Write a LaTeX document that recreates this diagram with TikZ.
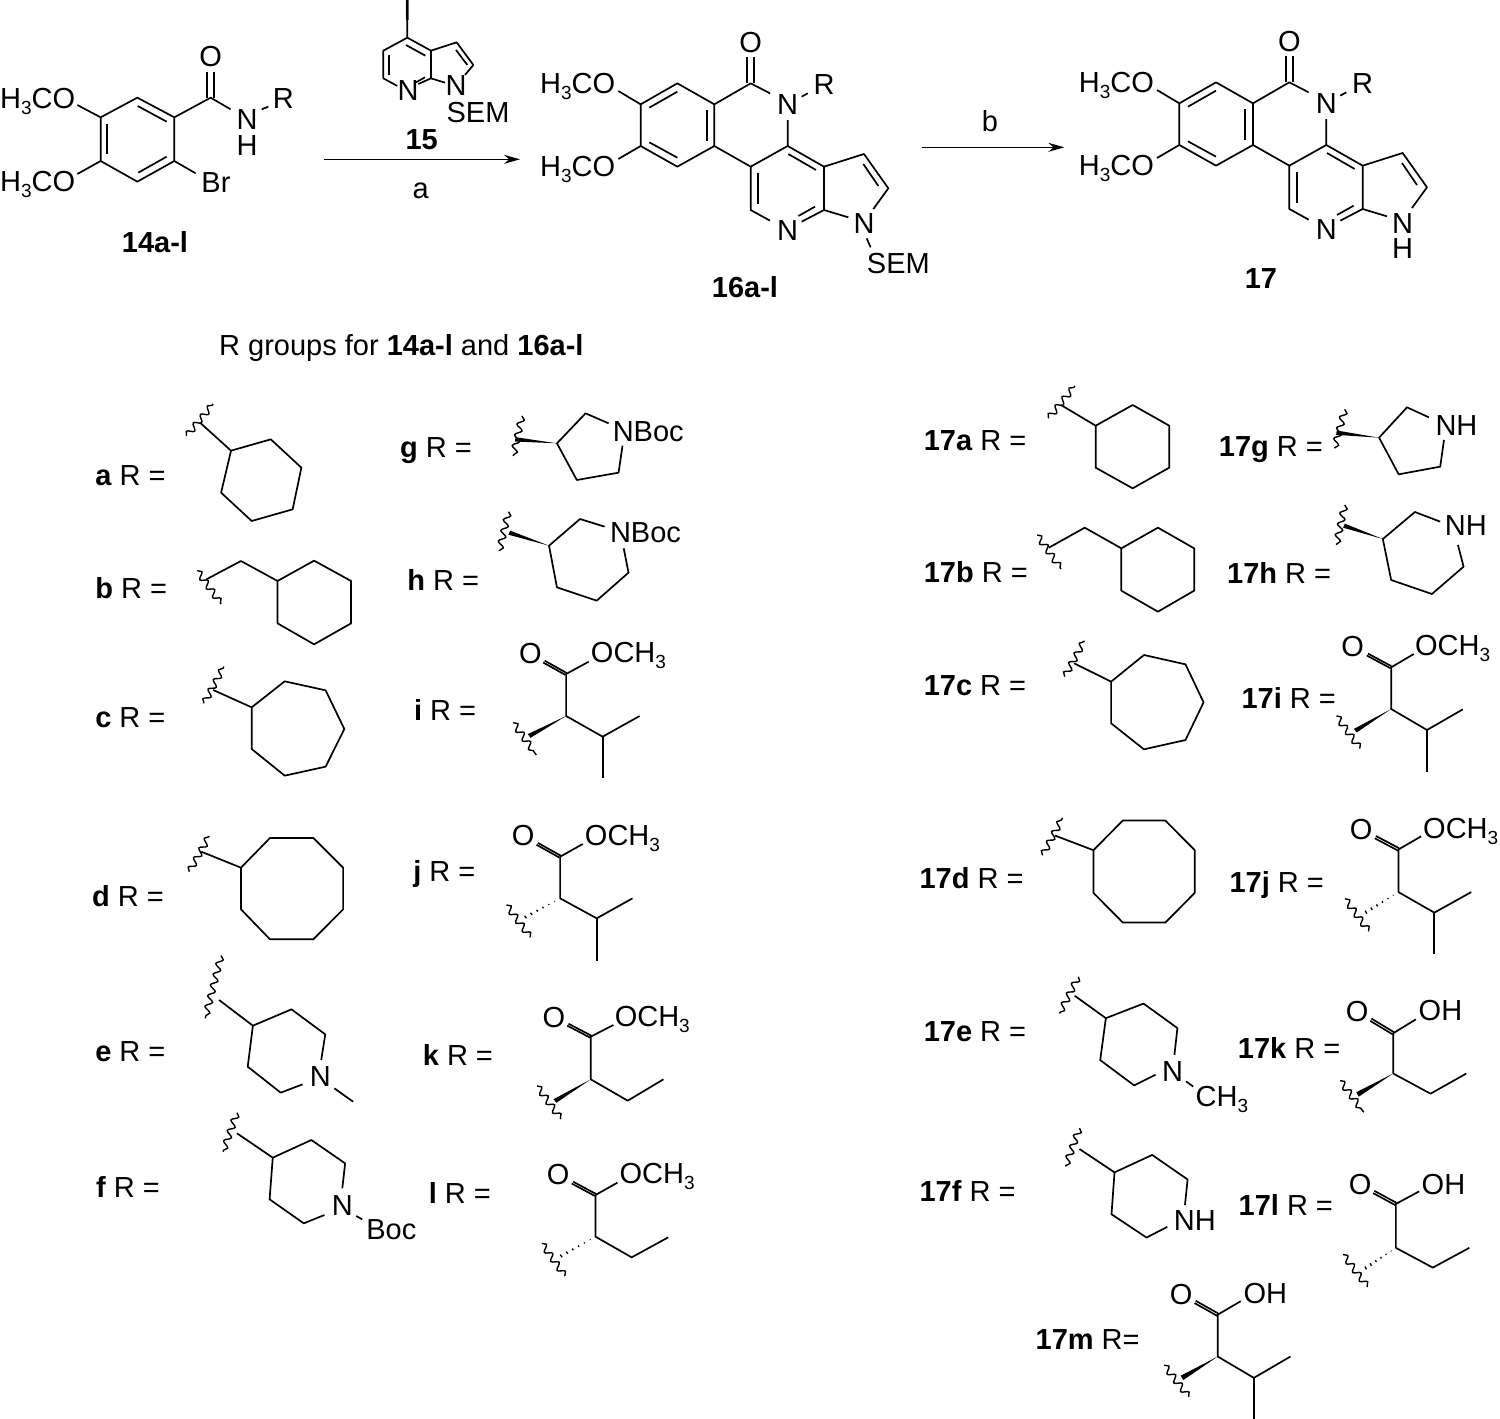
\documentclass[tikz,border=0pt]{standalone}
\usepackage{fontspec}
\setmainfont{Liberation Sans}
\usetikzlibrary{calc,arrows.meta,decorations.pathmorphing}
\newcommand{\chemf}{\fontsize{29}{31}\selectfont}
\newcommand{\three}{\raisebox{-6pt}{\fontsize{19}{19}\selectfont 3}}
\tikzset{
 every node/.style={font=\chemf,inner sep=0pt,text=black},
 bond/.style={line width=1.7pt,line join=round,black},
 wavy/.style={line width=1.4pt,black,decorate,decoration={snake,segment length=11pt,amplitude=3.2pt}},
 hash/.style={line width=1.3pt,black},
 rxn/.style={line width=1.4pt,black,-{Stealth[length=16pt,width=9pt]}},
 lbl/.style={anchor=base west},
 atom/.style={anchor=center},
 zA/.style={shift={(0,0)},scale=0.33333},
 zB/.style={shift={(520,10)},scale=0.33333},
 zD/.style={shift={(80,380)},xscale=0.39746,yscale=0.33333},
 zE/.style={shift={(80,800)},xscale=0.39746,yscale=0.33333},
 zF/.style={shift={(910,380)},xscale=0.37736,yscale=0.33333},
 zG/.style={shift={(910,800)},xscale=0.37665,yscale=0.39526},
}
% solid wedge: tip, wide end
\newcommand{\wedgeb}[2]{\coordinate (w1) at #1;\coordinate (w2) at #2;
 \fill[black] ($(w2)!6.5pt!90:(w1)$) -- (w1) -- ($(w2)!6.5pt!-90:(w1)$) -- cycle;}
% hashed wedge: tip, wide end
\newcommand{\hashb}[2]{\coordinate (w1) at #1;\coordinate (w2) at #2;
 \foreach \t/\w in {.14/.8,.29/1.5,.44/2.2,.59/2.9,.74/3.6,.89/4.4}{
  \coordinate (wc) at ($(w1)!\t!(w2)$);
  \draw[hash] ($(wc)!\w pt!90:(w2)$) -- ($(wc)!\w pt!-90:(w2)$);}}
% carbonyl double bond: O centre, C
\newcommand{\cdo}[2]{\coordinate (co) at #1;\coordinate (cc) at #2;
 \coordinate (ca) at ($(co)!.38!(cc)$);
 \draw[bond] ($(ca)!3.3pt!90:(cc)$) -- ($(cc)!3.3pt!-90:(ca)$);
 \draw[bond] ($(ca)!3.3pt!-90:(cc)$) -- ($(cc)!3.3pt!90:(ca)$);}
% tricyclic core of 16 and 17, in zoom coordinates
\newcommand{\core}[1]{
 \draw[bond] (295,243)--(362,283)--(472,220)--(583,283)--(692,220)--(750,250);
 \draw[bond] (362,283)--(362,408)--(472,470)--(583,408)--(583,283);
 \draw[bond] (295,447)--(362,408);
 \draw[bond] (583,408)--(692,470)--(692,600)--(750,632);
 \draw[bond] (692,470)--(803,408)--(803,330);
 \draw[bond] (803,408)--(912,470)--(912,600)--(845,635);
 \draw[bond] (912,470)--(1032,432)--(1105,535)--(1060,597);
 \draw[bond] (912,600)--(985,622);
 \draw[bond] (388,293)--(472,245);
 \draw[bond] (388,397)--(472,443);
 \draw[bond] (560,300)--(560,392);
 \draw[bond] (805,432)--(888,480);
 \draw[bond] (715,490)--(715,582);
 \draw[bond] (885,590)--(835,618);
 \draw[bond] (1030,462)--(1075,528);
 \draw[bond] (682,220)--(682,140);
 \draw[bond] (702,220)--(702,140);
 \draw[bond] (845,260)--(863,250);
 \node[lbl] (#1ma) at (60,250) {H\three CO};
 \node[lbl] (#1mb) at (60,498) {H\three CO};
 \node[atom] (#1o) at (692,97) {O};
 \node[atom] (#1n) at (803,285) {N};
 \node[atom] (#1r) at (912,225) {R};
 \node[atom] (#1p) at (803,662) {N};
}
\begin{document}
\begin{tikzpicture}[x=1pt,y=-1pt]
\useasboundingbox (0,0) rectangle (1500,1419);
% ---------- 14 and 15
\begin{scope}[zA]
 \draw[bond] (232,315)--(302,352)--(412,293)--(523,352)--(523,483)--(412,545)--(302,483)--(302,352);
 \draw[bond] (232,522)--(302,483);
 \draw[bond] (413,318)--(500,365);
 \draw[bond] (322,372)--(322,463);
 \draw[bond] (415,518)--(500,470);
 \draw[bond] (523,352)--(632,293)--(692,328);
 \draw[bond] (622,293)--(622,217);
 \draw[bond] (642,293)--(642,217);
 \draw[bond] (785,328)--(805,320);
 \draw[bond] (523,483)--(587,520);
 \node[lbl] (ma) at (0,325) {H\three CO};
 \node[lbl] (mb) at (0,575) {H\three CO};
 \node[atom] (oa) at (632,170) {O};
 \node[atom] (na) at (741,358) {N};
 \node[atom] (ha) at (741,437) {H};
 \node[atom] (ra) at (850,295) {R};
 \node[atom] (bra) at (648,548) {Br};
 \node[atom] (c14) at (465,725) {\textbf{14a-l}};
 % 15
 \draw[bond] (1222,58)--(1222,113)--(1293,152)--(1293,235)--(1255,252);
 \draw[bond] (1222,113)--(1150,152)--(1150,235)--(1192,258);
 \draw[bond] (1293,152)--(1370,127)--(1420,195)--(1395,225);
 \draw[bond] (1293,235)--(1335,248);
 \draw[bond] (1218,135)--(1276,167);
 \draw[bond] (1167,165)--(1167,225);
 \draw[bond] (1275,232)--(1248,247);
 \draw[bond] (1368,150)--(1402,195);
 \node[atom] (ia) at (1222,31) {I};
 \node[atom] (nb) at (1224,272) {N};
 \node[atom] (nc) at (1368,258) {N};
 \node[atom] (sa) at (1434,337) {SEM};
 \node[atom] (c15) at (1265,418) {\textbf{15}};
 \node[atom] (la) at (1262,573) {a};
 \coordinate (a1s) at (972,478);
 \coordinate (a1e) at (1560,478);
\end{scope}
\draw[rxn] (a1s) -- (a1e);
% ---------- 16
\begin{scope}[zB]
 \core{x}
 \draw[bond] (1040,685)--(1052,712);
 \node[atom] (nd) at (1032,640) {N};
 \node[atom] (sb) at (1135,760) {SEM};
 \node[atom] (c16) at (675,830) {\textbf{16a-l}};
 \coordinate (a2s) at (1205,412);
 \node[atom] (lb) at (1410,333) {b};
 \coordinate (a2e) at (1633,412);
\end{scope}
\draw[rxn] (a2s) -- (a2e);
% ---------- 17
\begin{scope}[zB,shift={(1616,-3)}]
 \core{y}
 \node[atom] (ne) at (1032,643) {N};
 \node[atom] (hb) at (1032,718) {H};
 \node[atom] (c17) at (607,808) {\textbf{17}};
\end{scope}
\node[lbl] (title) at (219,355) {R groups for \textbf{14a-l} and \textbf{16a-l}};
% ---------- left columns, upper
\begin{scope}[zD]
 \node[lbl] (ga) at (38,315) {\textbf{a} R =};
 \draw[wavy] (268,168)--(335,72);
 \draw[bond] (302,128)--(380,212)--(480,178)--(557,263)--(535,388)--(432,423)--(355,338)--(380,212);
 \node[lbl] (gb) at (38,655) {\textbf{b} R =};
 \draw[wavy] (295,572)--(355,672);
 \draw[bond] (318,598)--(405,543)--(497,603)--(589,542)--(682,603)--(682,730)--(589,793)--(497,730)--(497,603);
 \node[lbl] (gc) at (38,1042) {\textbf{c} R =};
 \draw[wavy] (312,970)--(362,860);
 \draw[bond] (335,930)--(432,982)--(515,904)--(618,931)--(665,1047)--(618,1160)--(515,1187)--(432,1107)--(432,982);
 \node[lbl] (gg) at (805,232) {\textbf{g} R =};
 \draw[wavy] (1112,108)--(1090,228);
 \wedgeb{(1200,190)}{(1095,178)}
 \draw[bond] (1330,130)--(1272,100)--(1200,190)--(1250,300)--(1355,278)--(1365,197);
 \node[lbl] (nbg) at (1340,183) {NBoc};
 \node[lbl] (gh) at (823,630) {\textbf{h} R =};
 \draw[wavy] (1078,395)--(1055,513);
 \wedgeb{(1180,497)}{(1080,458)}
 \draw[bond] (1320,440)--(1258,417)--(1180,497)--(1200,622)--(1300,662)--(1380,578)--(1368,505);
 \node[lbl] (nbh) at (1333,488) {NBoc};
 \node[lbl] (gi) at (840,1022) {\textbf{i} R =};
 \node[atom] (oi) at (1133,822) {O};
 \node[lbl] (mi) at (1285,848) {OCH\three};
 \cdo{(1133,822)}{(1223,882)}
 \draw[bond] (1280,845)--(1223,882)--(1223,1008)--(1315,1070)--(1408,1008);
 \draw[bond] (1315,1070)--(1315,1195);
 \wedgeb{(1223,1008)}{(1130,1068)}
 \draw[wavy] (1090,1028)--(1148,1125);
\end{scope}
% ---------- left columns, lower
\begin{scope}[zE]
 \node[lbl] (gd) at (30,318) {\textbf{d} R =};
 \draw[wavy] (275,215)--(325,108);
 \draw[bond] (305,155)--(405,203)--(478,114)--(587,114)--(662,203)--(662,328)--(587,418)--(478,418)--(405,328)--(405,203);
 \node[lbl] (gj) at (838,245) {\textbf{j} R =};
 \node[atom] (oj) at (1115,108) {O};
 \node[lbl] (mj) at (1270,135) {OCH\three};
 \cdo{(1115,108)}{(1208,170)}
 \draw[bond] (1265,132)--(1208,170)--(1208,295)--(1300,355)--(1390,295);
 \draw[bond] (1300,355)--(1300,482);
 \hashb{(1208,295)}{(1110,358)}
 \draw[wavy] (1073,315)--(1133,412);
 \node[lbl] (ge) at (38,785) {\textbf{e} R =};
 \draw[wavy] (355,467)--(315,655);
 \draw[bond] (350,600)--(435,677)--(532,628)--(617,703)--(607,780);
 \draw[bond] (560,853)--(505,878)--(422,800)--(435,677);
 \draw[bond] (640,865)--(687,905);
 \node[atom] (ne1) at (605,830) {N};
 \node[lbl] (gk) at (862,795) {\textbf{k} R =};
 \node[atom] (ok) at (1192,652) {O};
 \node[lbl] (mk) at (1345,680) {OCH\three};
 \cdo{(1192,652)}{(1285,710)}
 \draw[bond] (1342,675)--(1285,710)--(1285,838)--(1378,902)--(1468,838);
 \wedgeb{(1285,838)}{(1195,903)}
 \draw[wavy] (1150,858)--(1210,957);
 \node[lbl] (gf) at (40,1192) {\textbf{f} R =};
 \draw[wavy] (395,938)--(360,1055);
 \draw[bond] (395,1000)--(485,1073)--(582,1020)--(667,1090)--(660,1165);
 \draw[bond] (615,1245)--(563,1270)--(477,1198)--(485,1073);
 \draw[bond] (695,1248)--(710,1258);
 \node[atom] (nf) at (660,1218) {N};
 \node[lbl] (bf) at (720,1318) {Boc};
 \node[lbl] (gl) at (877,1210) {\textbf{l} R =};
 \node[atom] (ol) at (1203,1125) {O};
 \node[lbl] (ml) at (1357,1150) {OCH\three};
 \cdo{(1203,1125)}{(1297,1185)}
 \draw[bond] (1352,1148)--(1297,1185)--(1297,1310)--(1388,1372)--(1480,1312);
 \hashb{(1297,1310)}{(1200,1375)}
 \draw[wavy] (1162,1330)--(1220,1428);
\end{scope}
% ---------- right columns, upper
\begin{scope}[zF]
 \node[lbl] (qa) at (36,212) {\textbf{17a} R =};
 \draw[wavy] (367,115)--(437,18);
 \draw[bond] (400,75)--(492,137)--(590,75)--(687,137)--(687,263)--(590,325)--(492,263)--(492,137);
 \node[lbl] (qg) at (818,228) {\textbf{17g} R =};
 \draw[wavy] (1152,88)--(1125,205);
 \wedgeb{(1243,173)}{(1130,158)}
 \draw[bond] (1375,112)--(1317,82)--(1243,173)--(1295,283)--(1405,260)--(1415,180);
 \node[lbl] (nhg) at (1392,165) {NH};
 \node[lbl] (qb) at (36,607) {\textbf{17b} R =};
 \draw[wavy] (337,465)--(400,567);
 \draw[bond] (368,503)--(463,443)--(560,505)--(657,443)--(753,505)--(753,632)--(657,695)--(560,632)--(560,505);
 \node[lbl] (qh) at (840,610) {\textbf{17h} R =};
 \draw[wavy] (1152,375)--(1130,495);
 \wedgeb{(1253,477)}{(1150,437)}
 \draw[bond] (1405,425)--(1338,396)--(1253,477)--(1275,600)--(1383,642)--(1467,560)--(1452,495);
 \node[lbl] (nhh) at (1417,465) {NH};
 \node[lbl] (qc) at (36,947) {\textbf{17c} R =};
 \draw[wavy] (410,890)--(462,782);
 \draw[bond] (435,850)--(533,905)--(620,825)--(730,853)--(778,967)--(730,1080)--(620,1108)--(533,1030)--(533,905);
 \node[lbl] (qi) at (878,985) {\textbf{17i} R =};
 \node[atom] (oqi) at (1173,800) {O};
 \node[lbl] (mqi) at (1338,825) {OCH\three};
 \cdo{(1173,800)}{(1275,862)}
 \draw[bond] (1335,822)--(1275,862)--(1275,987)--(1370,1050)--(1465,988);
 \draw[bond] (1370,1050)--(1370,1177);
 \wedgeb{(1275,987)}{(1180,1052)}
 \draw[wavy] (1130,1008)--(1192,1105);
\end{scope}
% ---------- right columns, lower
\begin{scope}[zG]
 \node[lbl] (qd) at (25,225) {\textbf{17d} R =};
 \draw[wavy] (352,140)--(405,45);
 \draw[bond] (385,90)--(487,127)--(565,52)--(678,52)--(756,127)--(756,235)--(678,310)--(565,310)--(487,235)--(487,127);
 \node[lbl] (qj) at (848,235) {\textbf{17j} R =};
 \node[atom] (oqj) at (1198,75) {O};
 \node[lbl] (mqj) at (1362,98) {OCH\three};
 \cdo{(1198,75)}{(1297,125)}
 \draw[bond] (1357,92)--(1297,125)--(1297,233)--(1392,285)--(1490,233);
 \draw[bond] (1392,285)--(1392,390);
 \hashb{(1297,233)}{(1200,290)}
 \draw[wavy] (1155,250)--(1218,332);
 \node[lbl] (qe) at (36,612) {\textbf{17e} R =};
 \draw[wavy] (447,447)--(397,540);
 \draw[bond] (437,495)--(520,552)--(620,515)--(710,577)--(702,645);
 \draw[bond] (652,695)--(595,722)--(505,658)--(520,552);
 \draw[bond] (733,712)--(752,725);
 \node[atom] (nqe) at (697,688) {N};
 \node[lbl] (cqe) at (758,775) {CH\three};
 \node[lbl] (qk) at (870,655) {\textbf{17k} R =};
 \node[atom] (oqk) at (1187,535) {O};
 \node[lbl] (hqk) at (1350,557) {OH};
 \cdo{(1187,535)}{(1283,590)}
 \draw[bond] (1343,555)--(1283,590)--(1283,692)--(1382,743)--(1477,692);
 \wedgeb{(1283,692)}{(1188,745)}
 \draw[wavy] (1142,710)--(1205,790);
 \node[lbl] (qf) at (25,1015) {\textbf{17f} R =};
 \draw[wavy] (450,830)--(413,927);
 \draw[bond] (450,883)--(543,942)--(643,898)--(737,960)--(730,1025);
 \draw[bond] (683,1080)--(628,1107)--(535,1048)--(543,942);
 \node[lbl] (nqf) at (700,1090) {NH};
 \node[lbl] (ql) at (872,1050) {\textbf{17l} R =};
 \node[atom] (oql) at (1195,973) {O};
 \node[lbl] (hql) at (1358,997) {OH};
 \cdo{(1195,973)}{(1290,1022)}
 \draw[bond] (1352,990)--(1290,1022)--(1290,1133)--(1388,1183)--(1485,1133);
 \hashb{(1290,1133)}{(1200,1190)}
 \draw[wavy] (1150,1150)--(1215,1232);
 \node[lbl] (qm) at (333,1390) {\textbf{17m} R=};
 \node[atom] (oqm) at (720,1250) {O};
 \node[lbl] (hqm) at (885,1275) {OH};
 \cdo{(720,1250)}{(817,1302)}
 \draw[bond] (878,1268)--(817,1302)--(817,1408)--(913,1462)--(1010,1408);
 \draw[bond] (913,1462)--(913,1568);
 \wedgeb{(817,1408)}{(722,1462)}
 \draw[wavy] (675,1430)--(740,1510);
\end{scope}
\end{tikzpicture}
\end{document}
